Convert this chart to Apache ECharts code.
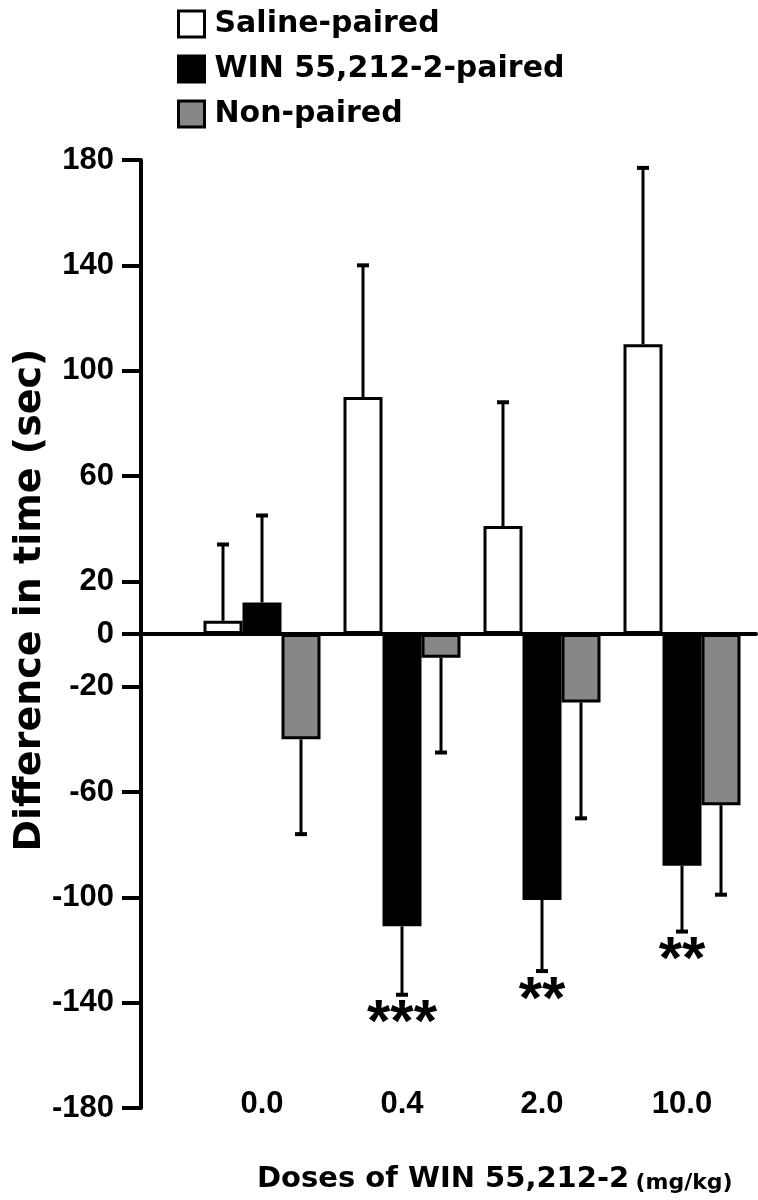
<!DOCTYPE html>
<html>
<head>
<meta charset="utf-8">
<script src="https://cdn.jsdelivr.net/npm/echarts@6/dist/echarts.min.js"></script>
<style>
html,body{margin:0;padding:0;background:#fff;}
#chart{width:758px;height:1200px;}
</style>
</head>
<body>
<div id="chart"></div>
<script>
// ---- data ----
const categories = ['0.0', '0.4', '2.0', '10.0'];
const seriesNames = ['Saline-paired', 'WIN 55,212-2-paired', 'Non-paired'];
const salineMean = [5, 90, 41, 110];
const salineSem = [29, 50, 47, 67];
const winMean = [12, -111, -101, -88];
const winSem = [33, 26, 27, 25];
const nonPairedMean = [-40, -9, -26, -65];
const nonPairedSem = [36, 36, 44, 34];
const winSignificance = ['', '***', '**', '**'];
const yTicks = [-180, -140, -100, -60, -20, 0, 20, 60, 100, 140, 180];

// ---- styles ----
const BAR_W = 39;
const offsets = [-BAR_W, 0, BAR_W];
const fills = ['#ffffff', '#000000', '#878787'];
const means = [salineMean, winMean, nonPairedMean];
const sems = [salineSem, winSem, nonPairedSem];
const sigs = [null, winSignificance, null];

const chart = echarts.init(document.getElementById('chart'), null, {renderer: 'canvas'});

function errRender(k) {
  return function (params, api) {
    const cat = api.value(0), v = api.value(1), sem = api.value(2);
    const dir = v >= 0 ? 1 : -1;
    const base = api.coord([cat, v]);
    const end = api.coord([cat, v + dir * sem]);
    const x = base[0] + offsets[k];
    const children = [
      {type: 'line', shape: {x1: x, y1: base[1], x2: x, y2: end[1]}, style: {stroke: '#000', lineWidth: 3}},
      {type: 'line', shape: {x1: x - 6, y1: end[1], x2: x + 6, y2: end[1]}, style: {stroke: '#000', lineWidth: 4}}
    ];
    const s = sigs[k] ? sigs[k][params.dataIndex] : '';
    if (s) {
      children.push({type: 'text', x: x, y: end[1] + 30,
        style: {text: s, font: 'bold 60px "Liberation Sans"', fill: '#000', align: 'center', verticalAlign: 'middle'}});
    }
    return {type: 'group', children: children};
  };
}

const series = [];
for (let k = 0; k < 3; k++) {
  series.push({
    name: seriesNames[k], type: 'bar', xAxisIndex: 1, yAxisIndex: 1,
    data: means[k], barWidth: BAR_W, barGap: '0%',
    itemStyle: {color: fills[k], borderColor: '#000', borderWidth: 3},
    emphasis: {disabled: true}, z: 2
  });
}
for (let k = 0; k < 3; k++) {
  series.push({
    name: 'err' + k, type: 'custom', xAxisIndex: 1, yAxisIndex: 1,
    renderItem: errRender(k),
    data: means[k].map((v, i) => [i, v, sems[k][i]]),
    encode: {x: 0, y: 1}, z: 3, silent: true
  });
}

const gridTop = 160, gridBottom = 92;
chart.setOption({
  animation: false,
  backgroundColor: '#fff',
  textStyle: {fontFamily: '"DejaVu Sans"'},
  legend: {
    data: seriesNames, orient: 'vertical', left: 172, top: 4,
    icon: 'rect', itemWidth: 26, itemHeight: 26, itemGap: 15,
    selectedMode: false,
    itemStyle: {borderColor: '#000', borderWidth: 3},
    textStyle: {fontFamily: '"DejaVu Sans"', fontWeight: 'bold', fontSize: 30, color: '#000', lineHeight: 30, padding: [0, 0, 0, 5]}
  },
  title: {
    text: '{a|Doses of WIN 55,212-2} {b|(mg/kg)}',
    left: 257, top: 1160, padding: 0,
    textStyle: {
      rich: {
        a: {fontFamily: '"DejaVu Sans"', fontWeight: 'bold', fontSize: 29, color: '#000', verticalAlign: 'bottom', lineHeight: 34},
        b: {fontFamily: '"DejaVu Sans"', fontWeight: 'bold', fontSize: 22, color: '#000', verticalAlign: 'bottom', lineHeight: 34}
      }
    }
  },
  graphic: [{
    type: 'text', x: 30, y: 600, rotation: Math.PI / 2,
    style: {text: 'Difference in time (sec)', font: 'bold 38px "DejaVu Sans"', fill: '#000', align: 'center', verticalAlign: 'middle'}
  }],
  grid: [
    {left: 141, right: 2, top: gridTop, bottom: gridBottom},
    {left: 192, right: 6, top: gridTop, bottom: gridBottom}
  ],
  xAxis: [
    {gridIndex: 0, type: 'value', min: 0, max: 1,
     axisLine: {show: true, onZero: true, lineStyle: {color: '#000', width: 4}},
     axisTick: {show: false}, axisLabel: {show: false}, splitLine: {show: false}},
    {gridIndex: 1, type: 'category', data: categories,
     axisLine: {show: false, onZero: false}, axisTick: {show: false}, splitLine: {show: false},
     axisLabel: {fontFamily: '"Liberation Sans"', fontWeight: 'bold', fontSize: 31, color: '#000', verticalAlign: 'middle', margin: -4}}
  ],
  yAxis: [
    {gridIndex: 0, type: 'value', min: -180, max: 180,
     axisLine: {show: true, onZero: false, lineStyle: {color: '#000', width: 4}},
     axisTick: {show: true, length: 19, customValues: yTicks, lineStyle: {color: '#000', width: 4}},
     axisLabel: {customValues: yTicks, margin: 27, fontFamily: '"Liberation Sans"', fontWeight: 'bold', fontSize: 31, color: '#000'},
     splitLine: {show: false}},
    {gridIndex: 1, type: 'value', min: -180, max: 180, show: false}
  ],
  series: series
});
</script>
</body>
</html>
